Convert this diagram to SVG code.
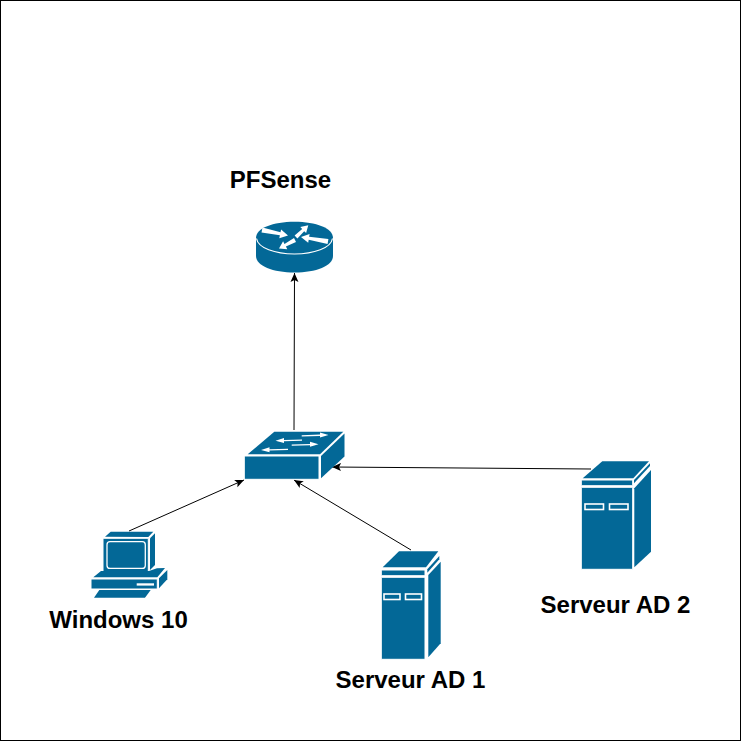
<svg xmlns="http://www.w3.org/2000/svg" width="741" height="741" viewBox="0 0 741 741">
<style>
.b{fill:#036897}
.o{fill:#036897;stroke:#fff;stroke-width:1}
.s{fill:#036897;stroke:#fff;stroke-width:1.600}
.w{fill:#fff}
.l{fill:none;stroke:#fff;stroke-width:1.200}
.c{fill:none;stroke:#000;stroke-width:1}
text{font-family:"Liberation Sans",Arial,sans-serif;font-size:24px;font-weight:bold;fill:#000;text-anchor:middle}
</style>
<defs>
<marker id="a" markerUnits="userSpaceOnUse" markerWidth="10" markerHeight="10" refX="9" refY="4" orient="auto" viewBox="0 0 10 8"><path d="M0 0L9 4L0 8L2 4Z" fill="#000"/></marker>
</defs>
<rect x="0.500" y="0.500" width="740" height="740" fill="#fff" stroke="#000"/>
<g id="connectors">
<path class="c" d="M294 430L294.500 273" marker-end="url(#a)"/>
<path class="c" d="M129 531L244 480" marker-end="url(#a)"/>
<path class="c" d="M411 550L294 480" marker-end="url(#a)"/>
<path class="c" d="M591 469L332 467" marker-end="url(#a)"/>
</g>
<g id="pfsense">
<path class="b" d="M256 238C256 228 273 221.700 294.500 221.700C316 221.700 333 228 333 238V256C333 266 316 272.500 294.500 272.500C273 272.500 256 266 256 256Z"/>
<path class="l" d="M256.500 238.500C258 248 275 254 294.500 254C314 254 331 248 332.500 238.500"/>
<path class="w" d="M262.500 227.500L280.500 232.300L281.100 229.400L288 235.500L279.300 238.200L279.900 235.300L261.500 232.500Z"/>
<path class="w" d="M294.600 235.600L302.200 229L300.300 227.100L308.300 225.300L306.100 233.100L304.200 231.200L297.400 238.400Z"/>
<path class="w" d="M328.400 239L309.100 236.800L309.600 233.900L301 237L308.200 242.700L308.700 239.800L327.600 244Z"/>
<path class="w" d="M294 238.100L284.500 243.900L283.100 241.200L279 248.500L287.300 249.200L285.900 246.500L296 241.900Z"/>
</g>
<g id="switch">
<path class="b" d="M247.700 454.300L274.300 431.700H343.300L320 454.300Z"/>
<path class="o" d="M244.300 456H319V479.300H244.300Z"/>
<path class="b" d="M321 456L344.500 433.500V456.500L321 478.300Z"/>
<path class="w" d="M301.700 435.200L320 434.600V432.500L328.500 435L320 437.500V435.900L301.700 436.500ZM302 439.500L284 440V438L275.500 440.700L284 443V441.300L302 440.800ZM291.700 444.500L310 443.900V441.800L318.500 444.300L310 446.800V445.200L291.700 445.800ZM288 448.800L269.500 449.300V447.300L261 450L269.500 452.300V450.600L288 450.100Z"/>
</g>
<g id="windows10">
<path class="b" d="M105 536.700L110.700 531.700H153.300L148.300 537Z"/>
<path class="o" d="M103 538.300H148.300V571.700H103Z"/>
<rect x="107" y="541.700" width="38.300" height="26.700" rx="3" fill="#036897" stroke="#fff" stroke-width="1.300"/>
<path class="b" d="M150 538.300L155 533.300V565L150 570Z"/>
<path class="b" d="M93.300 577.300L101 571H149L157 568.300L165 568L157.300 577.300Z"/>
<path class="o" d="M91 579H157.300V589H91Z"/>
<path class="b" d="M159 578.300L167.300 570V579.300L159 588.300Z"/>
<rect x="136.700" y="583.300" width="17.300" height="2.300" fill="#fff"/>
<path class="b" d="M94 597.700L99.300 590H150.700L145 597.700Z"/>
<path class="w" d="M93.300 598.300H145L151 592L149 597L146 599.700H93.300Z"/>
</g>
<g id="serveur-ad-1">
<path class="b" d="M382.700 567.300L399 551.300H438.300L426 567.300Z"/>
<path class="o" d="M381.300 570H425V575.700H381.300Z"/>
<path class="o" d="M381.300 577.300H425V659.300H381.300Z"/>
<path class="b" d="M427.300 569.300L439.300 556V559.300L427.300 572.700Z"/>
<path class="b" d="M428.300 575L440.700 561.700V643.300L428.300 657.300Z"/>
<rect x="384" y="594" width="16" height="5.500" class="s"/>
<rect x="405.500" y="594" width="16" height="5.500" class="s"/>
</g>
<g id="serveur-ad-2">
<path class="b" d="M582.700 478.300L602.300 461.300H649L633.300 478.300Z"/>
<path class="o" d="M581.300 480H632.700V485.700H581.300Z"/>
<path class="o" d="M581.300 487.300H632.700V569.300H581.300Z"/>
<path class="b" d="M634 480L650 463.300V466L634 483.300Z"/>
<path class="b" d="M634.300 488.300L651 470V551.700L634.300 567.300Z"/>
<rect x="585" y="504" width="18.500" height="5.500" class="s"/>
<rect x="609.500" y="504" width="18.500" height="5.500" class="s"/>
</g>
<text x="280.500" y="188">PFSense</text>
<text x="118.500" y="628">Windows 10</text>
<text x="410.500" y="688">Serveur AD 1</text>
<text x="615.500" y="613">Serveur AD 2</text>
</svg>
